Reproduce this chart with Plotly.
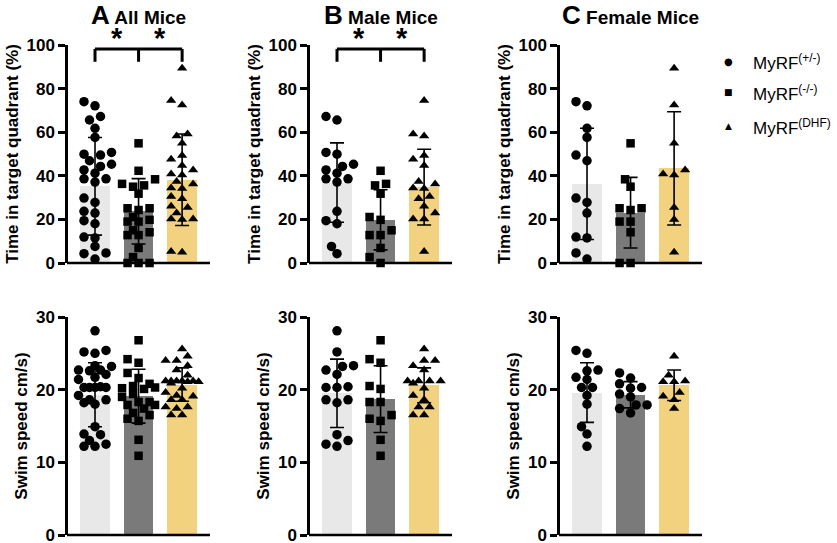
import math
import plotly.graph_objects as go

FONT = "Liberation Sans, Arial, Helvetica, sans-serif"

# groups / colours
groups = ["(+/-)", "(-/-)", "(DHF)"]
bar_colors = ["#e8e8e8", "#7a7a7a", "#f2d27f"]

# time in target quadrant (%) - individual mice
male_het_time = [67.2, 65.6, 50.7, 49.9, 45.3, 44.3, 42.7, 41.2, 38.6, 38.6, 37.1, 23.7, 19.4, 18.0, 7.6, 4.3]
male_ko_time = [42.3, 35.6, 36.3, 31.8, 21.1, 19.8, 15.0, 12.8, 12.8, 6.9, 2.7, 0.0]
male_dhf_time = [74.5, 58.3, 59.2, 49.3, 47.6, 44.7, 37.4, 36.2, 34.4, 34.2, 30.5, 29.5, 26.0, 22.9, 20.2, 20.2, 5.3]
female_het_time = [74.0, 72.1, 61.8, 57.6, 49.5, 46.9, 29.8, 27.8, 22.9, 11.9, 11.5, 4.6, 1.8]
female_ko_time = [54.9, 38.4, 35.0, 25.1, 25.1, 24.3, 19.0, 19.0, 14.1, 0.0, 0.0]
female_dhf_time = [89.3, 72.5, 54.9, 42.7, 40.8, 40.4, 25.5, 20.0, 4.9]

# swim speed (cm/s)
male_het_speed = [28.1, 25.2, 23.3, 23.2, 22.7, 22.1, 20.4, 20.3, 20.3, 18.6, 18.2, 18.6, 13.8, 13.0, 12.2, 12.5]
male_ko_speed = [26.8, 24.2, 23.7, 20.5, 20.1, 18.3, 18.3, 16.5, 16.0, 15.7, 13.1, 10.9]
male_dhf_speed = [25.6, 24.0, 24.0, 23.3, 22.7, 21.2, 21.2, 21.2, 21.2, 20.9, 20.2, 19.2, 18.6, 17.6, 17.6, 16.5, 16.5]
female_het_speed = [25.4, 25.0, 22.7, 22.6, 21.7, 21.4, 20.3, 20.3, 19.2, 18.0, 14.9, 13.9, 12.2]
female_ko_speed = [22.3, 21.6, 20.8, 20.3, 20.2, 19.4, 19.0, 17.9, 17.9, 17.4, 16.8]
female_dhf_speed = [24.6, 22.0, 21.2, 21.1, 21.1, 19.6, 19.1, 18.6, 17.4]

# bar means and SD
all_time_mean = [35.2, 23.7, 38.2]
all_time_sd = [22.4, 15.0, 21.0]
male_time_mean = [36.9, 19.8, 34.8]
male_time_sd = [18.2, 13.8, 17.4]
female_time_mean = [36.3, 23.1, 43.4]
female_time_sd = [25.5, 16.2, 26.0]
all_speed_mean = [19.3, 19.1, 20.7]
all_speed_sd = [4.4, 3.7, 2.3]
male_speed_mean = [19.5, 18.7, 20.6]
male_speed_sd = [4.7, 4.6, 2.4]
female_speed_mean = [19.6, 19.3, 20.6]
female_speed_sd = [4.1, 1.8, 2.1]

W, H = 837, 543
col_px = [(68, 210), (310, 452), (560, 702)]
row_px = [(45, 263), (317, 535)]
XR = [-0.62, 2.64]


def swarm(vals, center, px_x, px_y, dmin=8.5, step=5.5, kmax=3):
    # beeswarm in pixel space, widest spread limited to kmax*step
    placed = []
    out = [0.0] * len(vals)
    ks = [0]
    for k in range(1, kmax + 1):
        ks += [-k, k]
    for i in sorted(range(len(vals)), key=lambda j: vals[j]):
        ypx = vals[i] * px_y
        best, best_d = 0, -1
        for k in ks:
            xpx = k * step
            d = min([math.hypot(xpx - a, ypx - b) for a, b in placed] or [99])
            if d >= dmin:
                best = k
                break
            if d > best_d:
                best, best_d = k, d
        placed.append((best * step, ypx))
        out[i] = center + best * step / px_x
    return out


panels = [
    dict(r=0, c=0, data=[male_het_time + female_het_time, male_ko_time + female_ko_time, male_dhf_time + female_dhf_time],
         mean=all_time_mean, sd=all_time_sd, sym=["circle", "square", "triangle-up"], ymax=100, title="A", name="All Mice", stars=True),
    dict(r=0, c=1, data=[male_het_time, male_ko_time, male_dhf_time],
         mean=male_time_mean, sd=male_time_sd, sym=["circle", "square", "triangle-up"], ymax=100, title="B", name="Male Mice", stars=True),
    dict(r=0, c=2, data=[female_het_time, female_ko_time, female_dhf_time],
         mean=female_time_mean, sd=female_time_sd, sym=["circle", "square", "triangle-up"], ymax=100, title="C", name="Female Mice", stars=False),
    dict(r=1, c=0, data=[male_het_speed + female_het_speed, male_ko_speed + female_ko_speed, male_dhf_speed + female_dhf_speed],
         mean=all_speed_mean, sd=all_speed_sd, sym=["circle", "square", "triangle-up"], ymax=30),
    dict(r=1, c=1, data=[male_het_speed, male_ko_speed, male_dhf_speed],
         mean=male_speed_mean, sd=male_speed_sd, sym=["circle", "square", "triangle-up"], ymax=30),
    dict(r=1, c=2, data=[female_het_speed, female_ko_speed, female_dhf_speed],
         mean=female_speed_mean, sd=female_speed_sd, sym=["circle", "circle", "triangle-up"], ymax=30),
]

fig = go.Figure()
layout = {}
annotations = []
shapes = []
sizes = {"circle": 9.5, "square": 8.5, "triangle-up": 9}

for n, p in enumerate(panels, start=1):
    xa = "x" if n == 1 else "x%d" % n
    ya = "y" if n == 1 else "y%d" % n
    x0, x1 = col_px[p["c"]]
    y0, y1 = row_px[p["r"]]
    px_x = (x1 - x0) / (XR[1] - XR[0])
    px_y = (y1 - y0) / p["ymax"]

    fig.add_trace(go.Bar(x=[0, 1, 2], y=p["mean"], width=0.68, marker=dict(color=bar_colors, line_width=0),
                         xaxis=xa, yaxis=ya, hoverinfo="skip"))
    for g in range(3):
        vals = p["data"][g]
        fig.add_trace(go.Scatter(x=swarm(vals, g, px_x, px_y), y=vals, mode="markers", cliponaxis=False,
                                 marker=dict(symbol=p["sym"][g], size=sizes[p["sym"][g]], color="black", line_width=0),
                                 xaxis=xa, yaxis=ya))
    fig.add_trace(go.Scatter(x=[0, 1, 2], y=p["mean"], mode="markers", marker=dict(color="rgba(0,0,0,0)", size=1),
                             error_y=dict(type="data", array=p["sd"], color="black", thickness=1.6, width=7),
                             xaxis=xa, yaxis=ya, cliponaxis=False))

    key = "" if n == 1 else str(n)
    layout["xaxis" + key] = dict(domain=[x0 / W, x1 / W], range=XR, anchor=ya, showline=False,
                                 showticklabels=False, ticks="", showgrid=False, zeroline=False, fixedrange=True)
    # x baseline drawn as a thin paper rect so it is not clipped
    shapes.append(dict(type="rect", xref="paper", yref="paper", x0=(x0 - 1) / W, x1=x1 / W,
                       y0=1 - (y1 + 1.3) / H, y1=1 - (y1 - 1.3) / H, fillcolor="black",
                       line=dict(width=0), layer="above"))
    ytitle = "Time in target quadrant (%)" if p["r"] == 0 else "Swim speed cm/s)"
    dtick = 20 if p["ymax"] == 100 else 10
    layout["yaxis" + key] = dict(domain=[1 - y1 / H, 1 - y0 / H], range=[0, p["ymax"]], anchor=xa, showline=True,
                                 linecolor="black", linewidth=2.5, ticks="outside", ticklen=7, tickwidth=2.5,
                                 tickcolor="black", dtick=dtick, showgrid=False, zeroline=False,
                                 ticklabeloverflow="allow",
                                 tickfont=dict(family=FONT, size=17, color="black", weight="bold"),
                                 title=dict(text=ytitle, standoff=4,
                                            font=dict(family=FONT, size=17, color="black", weight="bold")),
                                 automargin=False)

    if "title" in p:
        annotations.append(dict(xref=xa, yref="paper", x=1, y=1 - 15 / H, yanchor="middle", xanchor="center",
                                showarrow=False,
                                text="<b><span style='font-size:26px'>%s</span> %s</b>" % (p["title"], p["name"]),
                                font=dict(family=FONT, size=19, color="black")))
    if p.get("stars"):
        for xb in [0, 1, 2]:
            shapes.append(dict(type="line", xref=xa, yref=ya, x0=xb, x1=xb, y0=92.3, y1=98.2,
                               line=dict(color="black", width=3)))
        shapes.append(dict(type="line", xref=xa, yref=ya, x0=0, x1=2, y0=98.2, y1=98.2,
                           line=dict(color="black", width=3)))
        for xs in [0.5, 1.5]:
            annotations.append(dict(xref=xa, yref="paper", x=xs, y=1 - 20 / H, yanchor="top", xanchor="center",
                                    showarrow=False, text="<b>*</b>",
                                    font=dict(family=FONT, size=29, color="black")))

# legend drawn by hand at the right
leg_sym = ["\u25CF", "\u25A0", "\u25B2"]
leg_sym_size = [10, 9, 9]
leg_y = [61, 92, 126]
for g in range(3):
    annotations.append(dict(xref="paper", yref="paper", x=728 / W, y=1 - leg_y[g] / H, xanchor="center",
                            yanchor="middle", showarrow=False, text=leg_sym[g],
                            font=dict(family="DejaVu Sans", size=leg_sym_size[g], color="black")))
    annotations.append(dict(xref="paper", yref="paper", x=751 / W, y=1 - (leg_y[g] + 1) / H, xanchor="left",
                            yanchor="middle", showarrow=False, text="MyRF<sup>%s</sup>" % groups[g],
                            font=dict(family=FONT, size=17, color="black")))

fig.update_layout(width=W, height=H, margin=dict(l=0, r=0, t=0, b=0), showlegend=False,
                  plot_bgcolor="white", paper_bgcolor="white", bargap=0,
                  annotations=annotations, shapes=shapes, **layout)

fig.write_html("out.html", config={"displayModeBar": False},
               post_script="document.body.style.margin='0px';")
